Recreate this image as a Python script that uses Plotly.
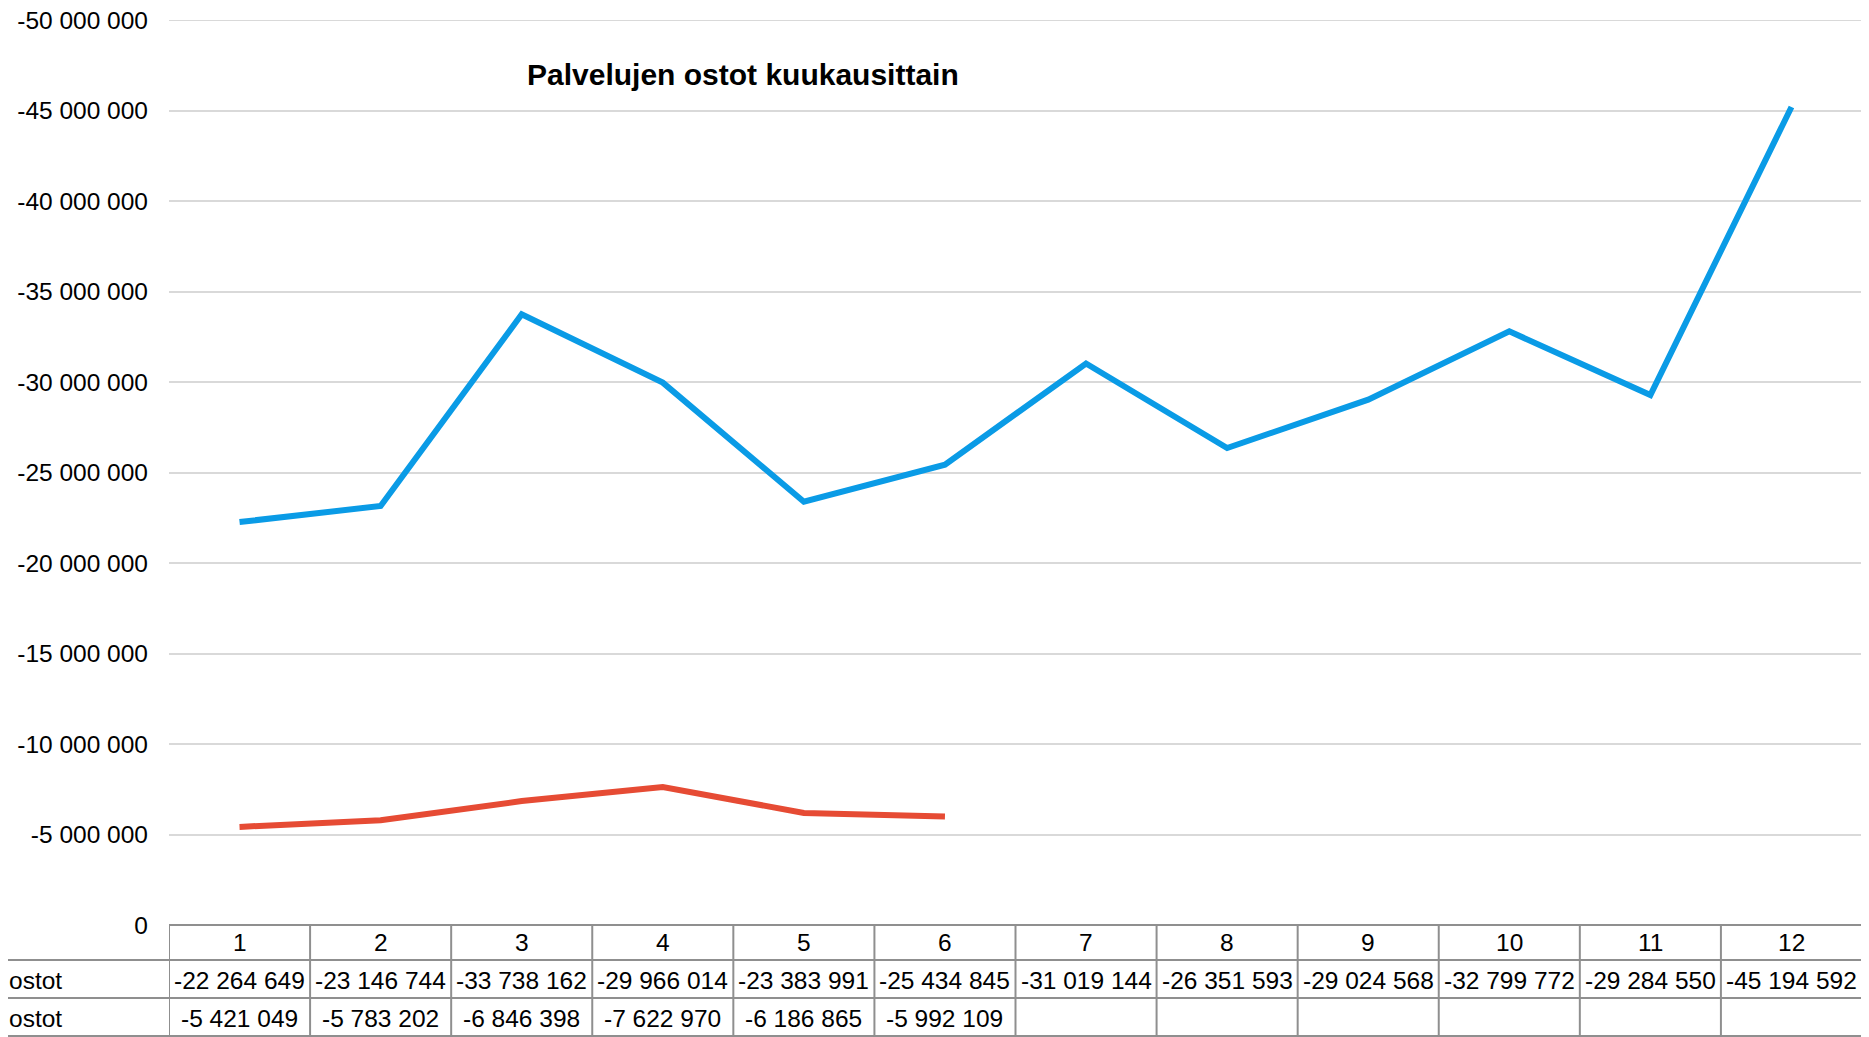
import plotly.graph_objects as go

# ---- data ----
months = [1, 2, 3, 4, 5, 6, 7, 8, 9, 10, 11, 12]
series_a_name = "ostot"
series_a = [-22264649, -23146744, -33738162, -29966014, -23383991, -25434845,
            -31019144, -26351593, -29024568, -32799772, -29284550, -45194592]
series_b_name = "ostot"
series_b = [-5421049, -5783202, -6846398, -7622970, -6186865, -5992109]
y_tickvals = [0, -5000000, -10000000, -15000000, -20000000, -25000000,
              -30000000, -35000000, -40000000, -45000000, -50000000]
title_text = "Palvelujen ostot kuukausittain"

BLUE = "#0a9be6"
RED = "#e64b34"
GRID = "#d9d9d9"
BORDER = "#8f8f8f"
FONT = "Liberation Sans, Arial, sans-serif"
FS = 24.5

OFF = 8  # page body margin
W, H = 1869 - OFF, 1037 - OFF
L, T = 169 - OFF, 20 - OFF
R = W - (1862 - OFF)
B = H - (925 - OFF)
PW, PH = W - L - R, H - T - B


def fmt(v):
    return f"{v:,}".replace(",", " ")


def py(p):  # screen pixel y -> paper y
    return (H - B - (p - OFF)) / PH


def px(p):  # screen pixel x -> paper x
    return ((p - OFF) - L) / PW


fig = go.Figure()
fig.add_trace(go.Scatter(x=months, y=series_a, mode="lines", name=series_a_name,
                         line=dict(color=BLUE, width=6)))
fig.add_trace(go.Scatter(x=months[:len(series_b)], y=series_b, mode="lines",
                         name=series_b_name, line=dict(color=RED, width=6)))

shapes = []
# top gridline
shapes.append(dict(type="line", xref="paper", yref="y", x0=0, x1=1,
                   y0=y_tickvals[-1], y1=y_tickvals[-1], layer="below",
                   line=dict(color=GRID, width=2)))
line_style = dict(color=BORDER, width=2)
# table horizontal lines
shapes.append(dict(type="line", xref="paper", yref="paper", x0=0, x1=1,
                   y0=0, y1=0, line=line_style))
for yy in (960, 998, 1036):
    shapes.append(dict(type="line", xref="paper", yref="paper", x0=px(OFF), x1=1,
                       y0=py(yy), y1=py(yy), line=line_style))
# table vertical lines
for i in range(len(months) + 1):
    xv = months[0] - 0.5 + i
    shapes.append(dict(type="line", xref="x", yref="paper", x0=xv, x1=xv,
                       y0=0, y1=py(1040), line=line_style))

annotations = []
tfont = dict(family=FONT, size=FS, color="#000000")
for i, m in enumerate(months):
    annotations.append(dict(x=m, y=py(943), xref="x", yref="paper", text=str(m),
                            showarrow=False, font=tfont, xanchor="center", yanchor="middle"))
    annotations.append(dict(x=m, y=py(980), xref="x", yref="paper", text=fmt(series_a[i]),
                            showarrow=False, font=tfont, xanchor="center", yanchor="middle"))
    if i < len(series_b):
        annotations.append(dict(x=m, y=py(1018), xref="x", yref="paper", text=fmt(series_b[i]),
                                showarrow=False, font=tfont, xanchor="center", yanchor="middle"))
annotations.append(dict(x=px(OFF), y=py(980), xref="paper", yref="paper", text=series_a_name,
                        showarrow=False, font=tfont, xanchor="left", yanchor="middle",
                        borderpad=0))
annotations.append(dict(x=px(OFF), y=py(1018), xref="paper", yref="paper", text=series_b_name,
                        showarrow=False, font=tfont, xanchor="left", yanchor="middle",
                        borderpad=0))
annotations.append(dict(x=px(743), y=py(74), xref="paper", yref="paper",
                        text="<b>" + title_text + "</b>", showarrow=False,
                        font=dict(family=FONT, size=30, color="#000000"),
                        xanchor="center", yanchor="middle"))

fig.update_layout(
    width=W, height=H,
    margin=dict(l=L, r=R, t=T, b=B, pad=0, autoexpand=False),
    paper_bgcolor="white", plot_bgcolor="white",
    showlegend=False,
    font=dict(family=FONT, size=FS, color="#000000"),
    shapes=shapes, annotations=annotations,
    xaxis=dict(range=[0.5, 12.5], showgrid=False, showticklabels=False,
               zeroline=False, showline=False, ticks="", automargin=False),
    yaxis=dict(range=[0, -50000000], tickvals=y_tickvals,
               ticktext=[fmt(v) for v in y_tickvals],
               showgrid=True, gridcolor=GRID, gridwidth=2,
               zeroline=False, showline=False, ticks="", automargin=False,
               ticklabelstandoff=20, ticklabeloverflow="allow",
               tickfont=dict(family=FONT, size=FS, color="#000000")),
)

fig.write_html("out.html")
